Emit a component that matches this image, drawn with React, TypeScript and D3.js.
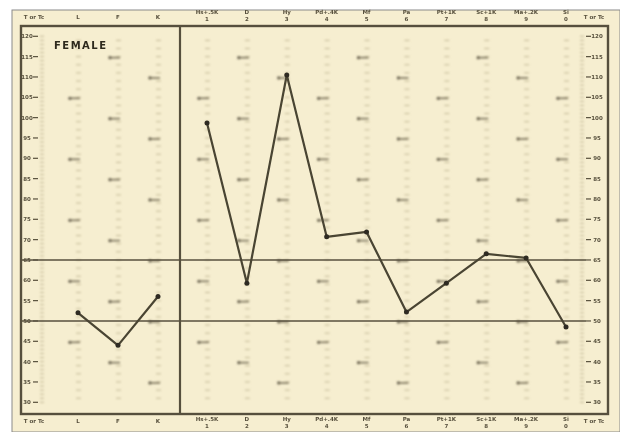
import React from "react";
import * as d3 from "d3";

// Validity scales (left panel) and clinical scales (right panel), T scores
const validityScales = ["L", "F", "K"];
const validityT = [52, 44, 56];
const clinicalScales = ["Hs", "D", "Hy", "Pd", "Mf", "Pa", "Pt", "Sc", "Ma", "Si"];
const clinicalT = [98.7, 59.3, 110.5, 70.7, 71.9, 52.2, 59.3, 66.5, 65.5, 48.5];
const clinicalTopLabels = ["Hs+.5K", "D", "Hy", "Pd+.4K", "Mf", "Pa", "Pt+1K", "Sc+1K", "Ma+.2K", "Si"];
const clinicalNumbers = ["1", "2", "3", "4", "5", "6", "7", "8", "9", "0"];
const tTicks = d3.range(30, 121, 5);
const refLines = [50, 65];
const sheetTitle = "FEMALE";
const axisTitle = "T or Tc";

const W = 620, H = 432;
const BG = "#f6eed0";
const INK = "#57503d";

export default function App() {
  const y = d3.scaleLinear().domain([30, 120]).range([402.3, 36.3]);
  const xL = d3.scalePoint<string>().domain(validityScales).range([78, 158]);
  const xR = d3.scalePoint<string>().domain(clinicalScales).range([207, 566]);
  const frame = { l: 21, r: 608, t: 26, b: 414 };
  const divider = 180;

  const leftPts = validityScales.map((s, i) => [xL(s)!, y(validityT[i])] as [number, number]);
  const rightPts = clinicalScales.map((s, i) => [xR(s)!, y(clinicalT[i])] as [number, number]);
  const line = d3.line();
  const minorT = d3.range(31, 120, 2);
  const allCols = [...validityScales.map((s) => xL(s)!), ...clinicalScales.map((s) => xR(s)!)];

  return (
    <svg width={W} height={H} style={{ position: "absolute", left: 0, top: 0 }} xmlns="http://www.w3.org/2000/svg">
      <defs>
        <filter id="soft" x="-5%" y="-5%" width="110%" height="110%">
          <feGaussianBlur stdDeviation="0.5" />
        </filter>
        <filter id="softer" x="-5%" y="-5%" width="110%" height="110%">
          <feGaussianBlur stdDeviation="0.8" />
        </filter>
        <filter id="line" x="-5%" y="-5%" width="110%" height="110%">
          <feGaussianBlur stdDeviation="0.35" />
        </filter>
      </defs>
      <rect x={0} y={0} width={W} height={H} fill="#ffffff" />
      <rect x={12} y={10} width={W - 12} height={H - 10} fill={BG} stroke="#8a8a8a" strokeWidth={1} />

      {/* column raw-score rulers (decorative dashes) */}
      <g filter="url(#softer)">
        {allCols.map((cx, ci) => (
          <g key={ci}>
            {minorT.map((t) => (
              <line key={t} x1={cx - 2} x2={cx + 3} y1={y(t)} y2={y(t)} stroke="#c2b895" strokeWidth={1} />
            ))}
            {tTicks.filter((t, k) => (k + ci) % 3 === 0 && t > 30 && t < 120).map((t) => (
              <g key={"b" + t}>
                <circle cx={cx - 8} cy={y(t) + 1} r={1.6} fill="#5e5744" />
                <line x1={cx - 8} x2={cx + 2} y1={y(t) + 1} y2={y(t) + 1} stroke="#7a725b" strokeWidth={1.6} />
              </g>
            ))}
          </g>
        ))}
        {d3.range(30, 121, 1).map((t) => (
          <line key={"fr" + t} x1={580} x2={584} y1={y(t)} y2={y(t)} stroke="#bfb592" strokeWidth={1} />
        ))}
        {d3.range(30, 121, 1).map((t) => (
          <line key={"fl" + t} x1={40} x2={44} y1={y(t)} y2={y(t)} stroke="#bfb592" strokeWidth={1} />
        ))}
      </g>

      {/* T score labels both sides */}
      <g filter="url(#soft)" fontFamily="DejaVu Sans" fontSize={5.5} fontWeight="bold" fill={INK}>
        {tTicks.map((t) => (
          <g key={t}>
            <text x={27} y={y(t) + 2} textAnchor="middle">{t}</text>
            <line x1={33} x2={38} y1={y(t)} y2={y(t)} stroke={INK} strokeWidth={1.2} />
            <text x={597} y={y(t) + 2} textAnchor="middle">{t}</text>
            <line x1={586} x2={591} y1={y(t)} y2={y(t)} stroke={INK} strokeWidth={1.2} />
          </g>
        ))}
      </g>

      {/* frame */}
      <g filter="url(#line)">
        <rect x={frame.l} y={frame.t} width={frame.r - frame.l} height={frame.b - frame.t} fill="none" stroke={INK} strokeWidth={2.4} />
        <line x1={divider} x2={divider} y1={frame.t} y2={frame.b} stroke={INK} strokeWidth={2.2} />
        {refLines.map((t) => (
          <line key={t} x1={frame.l} x2={586} y1={y(t)} y2={y(t)} stroke={INK} strokeWidth={1.4} />
        ))}
      </g>

      {/* header / footer labels */}
      <g filter="url(#soft)" fontFamily="DejaVu Sans" fontSize={5.5} fontWeight="bold" fill={INK} textAnchor="middle">
        {[0, 1].map((k) => (
          <g key={k}>
            <text x={34} y={k === 0 ? 19 : 423}>{axisTitle}</text>
            <text x={594} y={k === 0 ? 19 : 423}>{axisTitle}</text>
            {validityScales.map((s) => (
              <text key={s} x={xL(s)} y={k === 0 ? 19 : 423}>{s}</text>
            ))}
            {clinicalScales.map((s, i) => (
              <g key={s}>
                <text x={xR(s)} y={k === 0 ? 14 : 421}>{clinicalTopLabels[i]}</text>
                <text x={xR(s)} y={k === 0 ? 21 : 428}>{clinicalNumbers[i]}</text>
              </g>
            ))}
          </g>
        ))}
      </g>

      {/* title */}
      <text x={54} y={49} fontFamily="DejaVu Sans" fontSize={10} fontWeight="bold" fill="#2f2a1f" filter="url(#soft)" textLength={52}>
        {sheetTitle}
      </text>

      {/* profile lines */}
      <g filter="url(#line)">
        <path d={line(leftPts)!} fill="none" stroke="#4a4433" strokeWidth={2.2} strokeLinejoin="round" />
        <path d={line(rightPts)!} fill="none" stroke="#4a4433" strokeWidth={2.2} strokeLinejoin="round" />
        {[...leftPts, ...rightPts].map((p, i) => (
          <circle key={i} cx={p[0]} cy={p[1]} r={2.5} fill="#2e2a20" />
        ))}
      </g>
    </svg>
  );
}
